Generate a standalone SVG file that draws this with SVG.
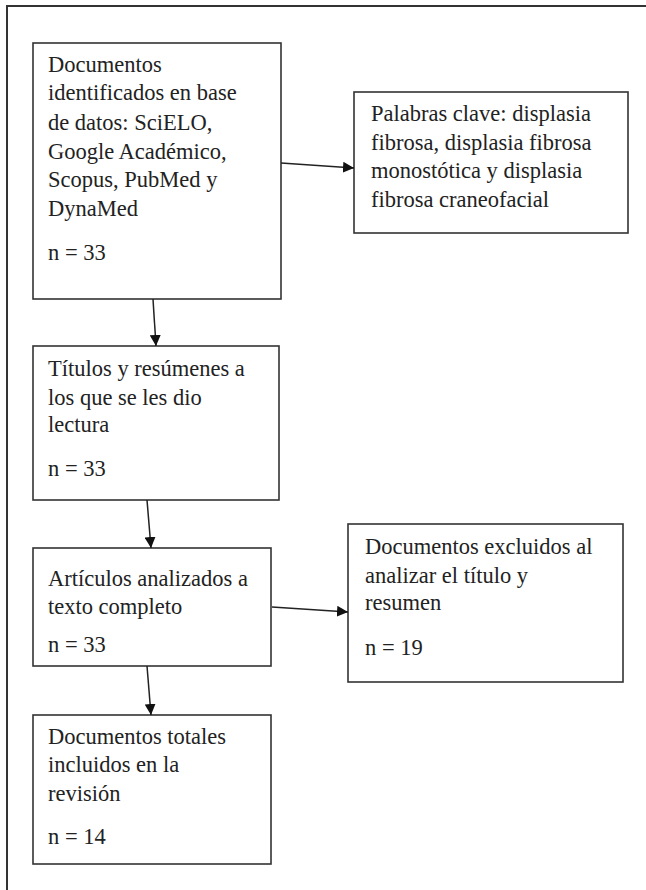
<svg xmlns="http://www.w3.org/2000/svg" width="646" height="890" viewBox="0 0 646 890">
<defs>
<style>
.box{fill:#fff;stroke:#333;stroke-width:1.6}
.frame{fill:none;stroke:#333;stroke-width:2}
text{font-family:"Liberation Serif","Times New Roman",serif;font-size:22.5px;fill:#222}
.edge{stroke:#222;stroke-width:1.5;fill:none}
</style>
<marker id="ah" viewBox="0 0 10 10" refX="10" refY="5" markerWidth="11" markerHeight="11" markerUnits="userSpaceOnUse" orient="auto">
<path d="M0,0 L10,5 L0,10 z" fill="#111"/>
</marker>
</defs>
<rect width="646" height="890" fill="#fff"/>
<path class="frame" d="M7,890 V6 H646"/>
<g id="n1">
<rect class="box" x="33" y="43" width="248" height="256"/>
<text x="48" y="72">Documentos</text>
<text x="48" y="100">identificados en base</text>
<text x="48" y="130">de datos: SciELO,</text>
<text x="48" y="159">Google Académico,</text>
<text x="48" y="187">Scopus, PubMed y</text>
<text x="48" y="216">DynaMed</text>
<text x="48" y="260">n = 33</text>
</g>
<g id="n2">
<rect class="box" x="354" y="92" width="274" height="141"/>
<text x="371" y="121">Palabras clave: displasia</text>
<text x="371" y="150">fibrosa, displasia fibrosa</text>
<text x="371" y="178">monostótica y displasia</text>
<text x="371" y="207">fibrosa craneofacial</text>
</g>
<g id="n3">
<rect class="box" x="33" y="346" width="246" height="154"/>
<text x="48" y="376">Títulos y resúmenes a</text>
<text x="48" y="405">los que se les dio</text>
<text x="48" y="432">lectura</text>
<text x="48" y="476">n = 33</text>
</g>
<g id="n4">
<rect class="box" x="33" y="548" width="238" height="118"/>
<text x="48" y="586">Artículos analizados a</text>
<text x="48" y="614">texto completo</text>
<text x="48" y="652">n = 33</text>
</g>
<g id="n5">
<rect class="box" x="348" y="524" width="275" height="158"/>
<text x="365" y="554">Documentos excluidos al</text>
<text x="365" y="583">analizar el título y</text>
<text x="365" y="610">resumen</text>
<text x="365" y="655">n = 19</text>
</g>
<g id="n6">
<rect class="box" x="33" y="715" width="238" height="149"/>
<text x="48" y="744">Documentos totales</text>
<text x="48" y="772">incluidos en la</text>
<text x="48" y="801">revisión</text>
<text x="48" y="844">n = 14</text>
</g>
<g id="edges">
<line class="edge" x1="281" y1="163" x2="354" y2="168" marker-end="url(#ah)"/>
<line class="edge" x1="153" y1="299" x2="156" y2="346" marker-end="url(#ah)"/>
<line class="edge" x1="147" y1="500" x2="151" y2="548" marker-end="url(#ah)"/>
<line class="edge" x1="272" y1="607" x2="348" y2="612" marker-end="url(#ah)"/>
<line class="edge" x1="147" y1="666" x2="151" y2="715" marker-end="url(#ah)"/>
</g>
</svg>
